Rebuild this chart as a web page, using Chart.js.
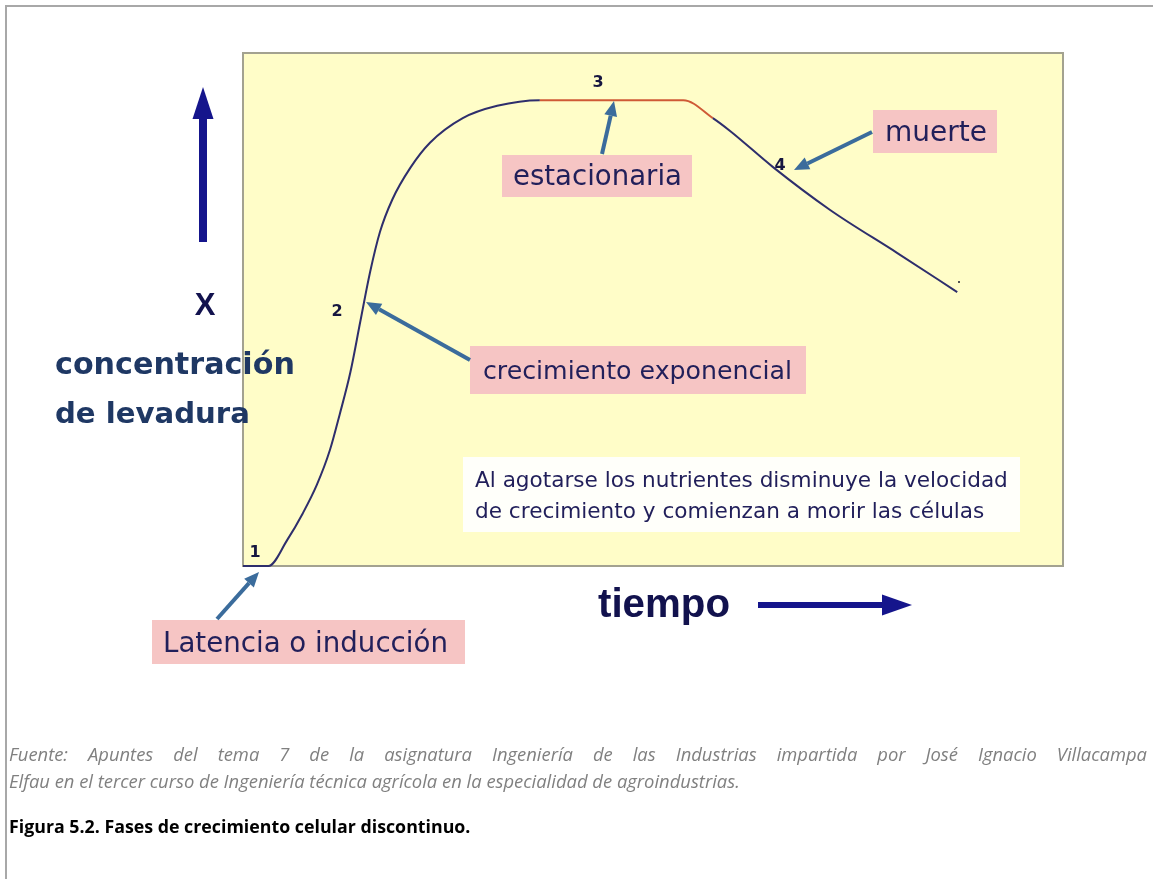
<!DOCTYPE html>
<html><head><meta charset="utf-8">
<script src="https://cdn.jsdelivr.net/npm/chart.js@4.4.0/dist/chart.umd.min.js"></script>
<style>
html,body{margin:0;padding:0;background:#fff;}
#wrap{position:relative;width:1153px;height:879px;overflow:hidden;background:#fff;}
#c{position:absolute;left:0;top:0;}
.ft{position:absolute;left:6px;top:5px;width:1147px;height:2px;background:#a8a8a8;}
.fl{position:absolute;left:5px;top:5px;width:2px;height:874px;background:#a8a8a8;}
.src{position:absolute;left:9px;width:1138px;font-family:'Open Sans',sans-serif;font-style:italic;font-size:18.4px;line-height:26px;color:#808080;white-space:nowrap;}
#l1{top:741px;text-align:justify;text-align-last:justify;white-space:normal;}
#l2{top:768px;}
#fig{position:absolute;left:9px;top:813px;font-family:'Open Sans',sans-serif;font-weight:bold;font-size:17.8px;line-height:26px;color:#000;}
</style></head>
<body>
<div id="wrap">
<canvas id="c" width="1153" height="879"></canvas>
<div class="ft"></div><div class="fl"></div>
<div class="src" id="l1">Fuente: Apuntes del tema 7 de la asignatura Ingeniería de las Industrias impartida por José Ignacio Villacampa</div>
<div class="src" id="l2">Elfau en el tercer curso de Ingeniería técnica agrícola en la especialidad de agroindustrias.</div>
<div id="fig">Figura 5.2. Fases de crecimiento celular discontinuo.</div>
</div>
<script>
// ---- data (time in arbitrary units 0-100, concentration in % of plot height) ----
const tiempo =        [0, 3.1, 5.4, 7.3, 9.0, 10.6, 11.8, 13.1, 14.3, 15.5, 16.7, 18.2, 20.4, 22.8, 26.8, 31.0, 36.2, 53.7, 57.3, 59.4, 64.6, 71.6, 79.8, 87.1];
const concentracion = [0, 0, 5.1, 10.3, 15.8, 22.6, 29.6, 37.8, 47.6, 57.3, 65.1, 71.4, 77.6, 82.5, 87.3, 89.7, 90.8, 90.8, 87.3, 84.8, 77.8, 69.4, 61.0, 53.4];
const estacionariaDesde = 36.2;
const estacionariaHasta = 57.3;
const fases = ['1', '2', '3', '4'];
const etiquetas = ['Latencia o inducción', 'crecimiento exponencial', 'estacionaria', 'muerte'];
const nota = ['Al agotarse los nutrientes disminuye la velocidad', 'de crecimiento y comienzan a morir las células'];

const puntos = tiempo.map((t, i) => ({x: t, y: concentracion[i]}));

function fitFont(ctx, text, weight, family, targetW) {
  ctx.font = weight + ' 100px ' + family;
  const w = ctx.measureText(text).width;
  const size = 100 * targetW / w;
  ctx.font = weight + ' ' + size.toFixed(2) + 'px ' + family;
  return size;
}
function arrow(ctx, x1, y1, x2, y2, w, hl, hw, color) {
  const a = Math.atan2(y2 - y1, x2 - x1);
  const bx = x2 - Math.cos(a) * hl, by = y2 - Math.sin(a) * hl;
  ctx.save();
  ctx.strokeStyle = color; ctx.fillStyle = color; ctx.lineWidth = w; ctx.lineCap = 'butt';
  ctx.beginPath(); ctx.moveTo(x1, y1); ctx.lineTo(bx, by); ctx.stroke();
  ctx.beginPath();
  ctx.moveTo(x2, y2);
  ctx.lineTo(bx + Math.sin(a) * hw / 2, by - Math.cos(a) * hw / 2);
  ctx.lineTo(bx - Math.sin(a) * hw / 2, by + Math.cos(a) * hw / 2);
  ctx.closePath(); ctx.fill();
  ctx.restore();
}
function box(ctx, x, y, w, h, fill) { ctx.fillStyle = fill; ctx.fillRect(x, y, w, h); }

const PINK = '#f6c5c4', TXT = '#211f5a', ARR = '#3b6c9c', NAVY = '#15158c';

const decor = {
  id: 'decor',
  beforeDatasetsDraw(chart) {
    const {ctx, chartArea: a} = chart;
    ctx.save();
    ctx.fillStyle = '#fffdc8';
    ctx.fillRect(a.left, a.top, a.right - a.left, a.bottom - a.top);
    ctx.strokeStyle = '#a3a290'; ctx.lineWidth = 2;
    ctx.strokeRect(a.left, a.top, a.right - a.left, a.bottom - a.top);
    box(ctx, 463, 457, 557, 75, '#fffffa');
    ctx.restore();
  },
  afterDatasetsDraw(chart) {
    const {ctx} = chart;
    ctx.save();
    ctx.textBaseline = 'alphabetic'; ctx.textAlign = 'left';
    const boxes = [
      [152, 620, 313, 44, 163, 652, 285],
      [470, 346, 336, 48, 483, 379, 309],
      [502, 155, 190, 42, 513, 185, 169],
      [873, 110, 124, 43, 885, 141, 102]
    ];
    [0, 1, 2, 3].forEach(i => {
      const b = boxes[i];
      box(ctx, b[0], b[1], b[2], b[3], PINK);
      ctx.fillStyle = TXT;
      fitFont(ctx, etiquetas[i], 'normal', '"DejaVu Sans"', b[6]);
      ctx.fillText(etiquetas[i], b[4], b[5]);
    });
    ctx.fillStyle = TXT;
    fitFont(ctx, nota[0], 'normal', '"DejaVu Sans"', 533);
    ctx.fillText(nota[0], 475, 487);
    ctx.fillText(nota[1], 475, 518);
    ctx.fillStyle = '#161640';
    ctx.font = 'bold 16px "DejaVu Sans"';
    ctx.textAlign = 'center';
    const nums = [[255, 557], [337, 316], [598, 87], [780, 170]];
    fases.forEach((n, i) => ctx.fillText(n, nums[i][0], nums[i][1]));
    arrow(ctx, 217, 619, 259, 572, 4, 15, 13, ARR);
    arrow(ctx, 470, 360, 366, 302, 4, 15, 13, ARR);
    arrow(ctx, 602, 154, 614, 101, 4, 15, 13, ARR);
    arrow(ctx, 872, 132, 794, 170, 4, 15, 13, ARR);
    arrow(ctx, 203, 242, 203, 87, 8, 32, 21, NAVY);
    arrow(ctx, 758, 605, 912, 605, 6, 30, 21, NAVY);
    ctx.fillStyle = '#12124e';
    ctx.textAlign = 'center';
    ctx.font = 'bold 31px "Liberation Sans"';
    ctx.fillText('X', 205, 315);
    ctx.textAlign = 'left';
    fitFont(ctx, 'tiempo', 'bold', '"Liberation Sans"', 132);
    ctx.fillText('tiempo', 598, 617);
    ctx.fillStyle = '#1f3864';
    fitFont(ctx, 'concentración', 'bold', '"DejaVu Sans"', 240);
    ctx.fillText('concentración', 55, 374);
    fitFont(ctx, 'de levadura', 'bold', '"DejaVu Sans"', 195);
    ctx.fillText('de levadura', 55, 423);
    ctx.fillStyle = '#555';
    ctx.fillRect(958, 281, 2, 2);
    ctx.restore();
  }
};

new Chart(document.getElementById('c'), {
  type: 'line',
  data: {
    datasets: [{
      data: puntos,
      borderColor: '#2e2e6c',
      borderWidth: 2,
      pointRadius: 0,
      cubicInterpolationMode: 'monotone',
      clip: false,
      segment: {
        borderColor: c => (c.p0.parsed.x >= estacionariaDesde && c.p1.parsed.x <= estacionariaHasta) ? '#cf5a36' : '#2e2e6c'
      }
    }]
  },
  options: {
    responsive: false,
    animation: false,
    devicePixelRatio: 1,
    layout: {padding: {left: 243, top: 53, right: 90, bottom: 313}},
    scales: {
      x: {type: 'linear', min: 0, max: 100, display: false},
      y: {min: 0, max: 100, display: false}
    },
    plugins: {legend: {display: false}, tooltip: {enabled: false}}
  },
  plugins: [decor]
});
</script>
</body></html>
